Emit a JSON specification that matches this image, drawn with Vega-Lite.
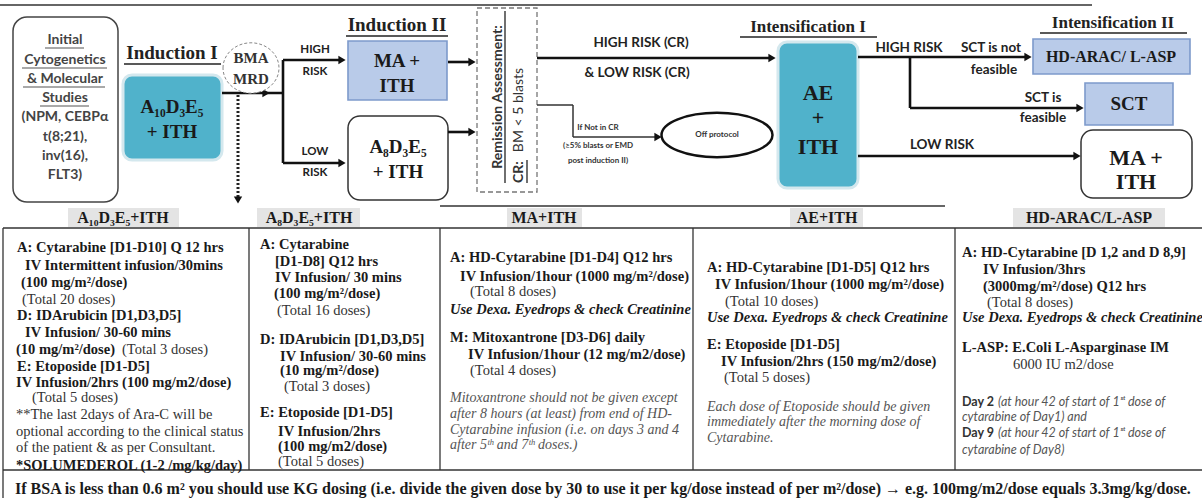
{
  "$schema": "https://vega.github.io/schema/vega-lite/v6.json",
  "width": 1202,
  "height": 498,
  "autosize": {"type": "none"},
  "padding": 0,
  "background": "white",
  "config": {"view": {"stroke": null}},
  "datasets": {
    "tableRules": [
      {"x": 3, "y": 228, "x2": 1202, "y2": 228},
      {"x": 3, "y": 470, "x2": 1202, "y2": 470},
      {"x": 3, "y": 228, "x2": 3, "y2": 498},
      {"x": 249, "y": 228, "x2": 249, "y2": 470},
      {"x": 440, "y": 228, "x2": 440, "y2": 470},
      {"x": 693, "y": 228, "x2": 693, "y2": 470},
      {"x": 955, "y": 228, "x2": 955, "y2": 470}
    ],
    "grayRules": [
      {"x": 0, "y": 5, "x2": 1092, "y2": 5},
      {"x": 440, "y": 206, "x2": 945, "y2": 206}
    ],
    "headerBg": [
      {"x": 68, "y": 208, "x2": 179, "y2": 227},
      {"x": 257, "y": 208, "x2": 360, "y2": 227},
      {"x": 507, "y": 208, "x2": 582, "y2": 227},
      {"x": 790, "y": 208, "x2": 863, "y2": 227},
      {"x": 1013, "y": 208, "x2": 1165, "y2": 227}
    ],
    "tealBoxes": [
      {"x": 123, "y": 75, "x2": 222, "y2": 160},
      {"x": 778, "y": 42, "x2": 858, "y2": 188}
    ],
    "blueBoxes": [
      {"x": 348, "y": 41, "x2": 447, "y2": 100},
      {"x": 1033, "y": 39, "x2": 1190, "y2": 74},
      {"x": 1085, "y": 83, "x2": 1173, "y2": 125}
    ],
    "whiteBoxes": [
      {"x": 348, "y": 116, "x2": 448, "y2": 200},
      {"x": 1081, "y": 130, "x2": 1192, "y2": 198}
    ],
    "initialBox": [{"x": 13, "y": 17, "x2": 118, "y2": 202}],
    "dashedBox": [{"x": 477, "y": 8, "x2": 537, "y2": 192}],
    "flowLines": [
      {"x": 222, "y": 93, "x2": 283, "y2": 93},
      {"x": 283, "y": 60, "x2": 283, "y2": 163},
      {"x": 283, "y": 60, "x2": 340, "y2": 60},
      {"x": 283, "y": 163, "x2": 340, "y2": 163},
      {"x": 448, "y": 62, "x2": 470, "y2": 62},
      {"x": 448, "y": 132, "x2": 470, "y2": 132},
      {"x": 537, "y": 58, "x2": 770, "y2": 58},
      {"x": 858, "y": 57, "x2": 1025, "y2": 57},
      {"x": 910, "y": 57, "x2": 910, "y2": 108},
      {"x": 910, "y": 108, "x2": 1077, "y2": 108},
      {"x": 858, "y": 156, "x2": 1074, "y2": 156}
    ],
    "thinLines": [
      {"x": 537, "y": 105, "x2": 573, "y2": 105},
      {"x": 573, "y": 105, "x2": 573, "y2": 137},
      {"x": 573, "y": 137, "x2": 656, "y2": 137}
    ],
    "dottedLines": [{"x": 238, "y": 95, "x2": 238, "y2": 198}],
    "arrowsRight": [
      {"x": 266, "y": 93},
      {"x": 342, "y": 60},
      {"x": 342, "y": 163},
      {"x": 472, "y": 62},
      {"x": 472, "y": 132},
      {"x": 772, "y": 58},
      {"x": 1028, "y": 57},
      {"x": 1080, "y": 108},
      {"x": 1077, "y": 156},
      {"x": 658, "y": 137}
    ],
    "arrowsDown": [{"x": 238, "y": 200}],
    "bmaCircle": [{"x": 251, "y": 68}],
    "offEllipse": [{"x": 717, "y": 135}],
    "underlines": [
      {"x": 124, "y": 64, "x2": 221, "y2": 64},
      {"x": 346, "y": 36, "x2": 448, "y2": 36},
      {"x": 740, "y": 37, "x2": 877, "y2": 37},
      {"x": 1040, "y": 33, "x2": 1187, "y2": 33},
      {"x": 505, "y": 11, "x2": 505, "y2": 183},
      {"x": 527, "y": 160, "x2": 527, "y2": 183}
    ],
    "grayUnderlines": [
      {"x": 45, "y": 48, "x2": 84, "y2": 48},
      {"x": 22, "y": 68, "x2": 107, "y2": 68},
      {"x": 23, "y": 87, "x2": 105, "y2": 87},
      {"x": 40, "y": 106, "x2": 89, "y2": 106}
    ],
    "head19": [
      {"x": 172, "y": 53, "t": "Induction I"},
      {"x": 397, "y": 25, "t": "Induction II"}
    ],
    "head17": [
      {"x": 808, "y": 27, "t": "Intensification I"},
      {"x": 1113, "y": 23, "t": "Intensification II"}
    ],
    "box18": [
      {"x": 172, "y": 107, "t": "A₁₀D₃E₅"},
      {"x": 172, "y": 132, "t": "+ ITH"},
      {"x": 398, "y": 147, "t": "A₈D₃E₅"},
      {"x": 398, "y": 172, "t": "+ ITH"},
      {"x": 397, "y": 61, "t": "MA +"},
      {"x": 397, "y": 86, "t": "ITH"},
      {"x": 1129, "y": 104, "t": "SCT"}
    ],
    "box22": [
      {"x": 818, "y": 93, "t": "AE"},
      {"x": 818, "y": 118, "t": "+"},
      {"x": 818, "y": 147, "t": "ITH"},
      {"x": 1136, "y": 158, "t": "MA +"},
      {"x": 1136, "y": 182, "t": "ITH"}
    ],
    "box16": [{"x": 1111, "y": 57, "t": "HD-ARAC/ L-ASP"}],
    "bma": [
      {"x": 251, "y": 58, "t": "BMA"},
      {"x": 251, "y": 79, "t": "MRD"}
    ],
    "flow12": [
      {"x": 641, "y": 43, "t": "HIGH RISK (CR)"},
      {"x": 637, "y": 73, "t": "& LOW RISK (CR)"},
      {"x": 909, "y": 48, "t": "HIGH RISK"},
      {"x": 991, "y": 48, "t": "SCT is not"},
      {"x": 994, "y": 70, "t": "feasible"},
      {"x": 1043, "y": 98, "t": "SCT is"},
      {"x": 1043, "y": 118, "t": "feasible"},
      {"x": 942, "y": 145, "t": "LOW RISK"}
    ],
    "flow11": [
      {"x": 315, "y": 50, "t": "HIGH"},
      {"x": 315, "y": 72, "t": "RISK"},
      {"x": 315, "y": 152, "t": "LOW"},
      {"x": 315, "y": 173, "t": "RISK"}
    ],
    "flow8": [
      {"x": 598, "y": 128, "t": "If Not in CR"},
      {"x": 598, "y": 146, "t": "(≥5% blasts or EMD"},
      {"x": 598, "y": 161, "t": "post induction II)"},
      {"x": 717, "y": 135, "t": "Off protocol"}
    ],
    "initialText": [
      {"x": 65, "y": 40, "t": "Initial"},
      {"x": 65, "y": 60, "t": "Cytogenetics"},
      {"x": 65, "y": 79, "t": "& Molecular"},
      {"x": 65, "y": 98, "t": "Studies"},
      {"x": 65, "y": 117, "t": "(NPM, CEBPα"},
      {"x": 65, "y": 137, "t": "t(8;21),"},
      {"x": 65, "y": 156, "t": "inv(16),"},
      {"x": 65, "y": 175, "t": "FLT3)"}
    ],
    "rotBold": [
      {"x": 498, "y": 97, "t": "Remission Assessment:"},
      {"x": 519, "y": 172, "t": "CR:"}
    ],
    "rotNormal": [{"x": 519, "y": 110, "t": "BM < 5 blasts"}],
    "tableHeads": [
      {"x": 123, "y": 218, "t": "A₁₀D₃E₅+ITH"},
      {"x": 309, "y": 218, "t": "A₈D₃E₅+ITH"},
      {"x": 544, "y": 218, "t": "MA+ITH"},
      {"x": 827, "y": 218, "t": "AE+ITH"},
      {"x": 1089, "y": 218, "t": "HD-ARAC/L-ASP"}
    ],
    "cellBold": [
      {"x": 17, "y": 248, "t": "A: Cytarabine  [D1-D10] Q 12 hrs"},
      {"x": 25, "y": 266, "t": "IV Intermittent infusion/30mins"},
      {"x": 21, "y": 283, "t": "(100 mg/m²/dose)"},
      {"x": 17, "y": 316, "t": "D:  IDArubicin  [D1,D3,D5]"},
      {"x": 25, "y": 333, "t": "IV Infusion/ 30-60 mins"},
      {"x": 16, "y": 350, "t": "(10 mg/m²/dose)"},
      {"x": 17, "y": 367, "t": "E: Etoposide  [D1-D5]"},
      {"x": 16, "y": 383, "t": "IV Infusion/2hrs (100 mg/m2/dose)"},
      {"x": 16, "y": 466, "t": "*SOLUMEDEROL (1-2 /mg/kg/day)"},
      {"x": 260, "y": 245, "t": "A: Cytarabine"},
      {"x": 275, "y": 262, "t": "[D1-D8] Q12 hrs"},
      {"x": 275, "y": 278, "t": "IV Infusion/ 30 mins"},
      {"x": 274, "y": 294, "t": "(100 mg/m²/dose)"},
      {"x": 260, "y": 340, "t": "D:  IDArubicin  [D1,D3,D5]"},
      {"x": 280, "y": 357, "t": "IV Infusion/ 30-60 mins"},
      {"x": 280, "y": 371, "t": "(10 mg/m²/dose)"},
      {"x": 260, "y": 413, "t": "E: Etoposide  [D1-D5]"},
      {"x": 278, "y": 432, "t": "IV Infusion/2hrs"},
      {"x": 278, "y": 447, "t": "(100 mg/m2/dose)"},
      {"x": 450, "y": 258, "t": "A: HD-Cytarabine  [D1-D4] Q12 hrs"},
      {"x": 460, "y": 277, "t": "IV Infusion/1hour (1000 mg/m²/dose)"},
      {"x": 450, "y": 338, "t": "M: Mitoxantrone  [D3-D6] daily"},
      {"x": 468, "y": 355, "t": "IV Infusion/1hour (12 mg/m2/dose)"},
      {"x": 707, "y": 268, "t": "A: HD-Cytarabine  [D1-D5] Q12 hrs"},
      {"x": 715, "y": 285, "t": "IV Infusion/1hour (1000 mg/m²/dose)"},
      {"x": 707, "y": 345, "t": "E: Etoposide  [D1-D5]"},
      {"x": 721, "y": 362, "t": "IV Infusion/2hrs (150 mg/m2/dose)"},
      {"x": 962, "y": 253, "t": "A:  HD-Cytarabine  [D 1,2 and D 8,9]"},
      {"x": 983, "y": 270, "t": "IV Infusion/3hrs"},
      {"x": 983, "y": 287, "t": "(3000mg/m²/dose)  Q12 hrs"},
      {"x": 962, "y": 348, "t": "L-ASP: E.Coli L-Asparginase IM"}
    ],
    "cellNormal": [
      {"x": 22, "y": 300, "t": "(Total 20 doses)"},
      {"x": 122, "y": 350, "t": "(Total 3 doses)"},
      {"x": 32, "y": 398, "t": "(Total 5 doses)"},
      {"x": 16, "y": 415, "t": "**The last 2days of Ara-C will be"},
      {"x": 16, "y": 432, "t": "optional according to the clinical status"},
      {"x": 16, "y": 448, "t": "of the patient & as per Consultant."},
      {"x": 277, "y": 311, "t": "(Total 16 doses)"},
      {"x": 284, "y": 387, "t": "(Total 3 doses)"},
      {"x": 278, "y": 462, "t": "(Total 5 doses)"},
      {"x": 470, "y": 292, "t": "(Total 8 doses)"},
      {"x": 470, "y": 371, "t": "(Total 4 doses)"},
      {"x": 725, "y": 302, "t": "(Total 10 doses)"},
      {"x": 724, "y": 378, "t": "(Total 5 doses)"},
      {"x": 987, "y": 303, "t": "(Total 8 doses)"},
      {"x": 1013, "y": 365, "t": "6000 IU m2/dose"}
    ],
    "cellBoldItalic": [
      {"x": 450, "y": 310, "t": "Use Dexa. Eyedrops & check Creatinine"},
      {"x": 707, "y": 318, "t": "Use Dexa. Eyedrops & check Creatinine"},
      {"x": 962, "y": 318, "t": "Use Dexa. Eyedrops & check Creatinine"}
    ],
    "cellItalic": [
      {"x": 450, "y": 398, "t": "Mitoxantrone should not be given except"},
      {"x": 450, "y": 414, "t": "after 8 hours (at least) from end of HD-"},
      {"x": 450, "y": 430, "t": "Cytarabine infusion  (i.e. on days 3 and 4"},
      {"x": 450, "y": 445, "t": "after 5ᵗʰ and 7ᵗʰ doses.)"},
      {"x": 707, "y": 407, "t": "Each dose of Etoposide should be given"},
      {"x": 707, "y": 422, "t": "immediately after the morning dose of"},
      {"x": 707, "y": 438, "t": "Cytarabine."}
    ],
    "sansBold": [
      {"x": 962, "y": 402, "t": "Day 2"},
      {"x": 962, "y": 433, "t": "Day 9"}
    ],
    "sansItalic": [
      {"x": 998, "y": 402, "t": "(at hour 42 of start of 1ˢᵗ dose of"},
      {"x": 962, "y": 417, "t": "cytarabine of Day1) and"},
      {"x": 998, "y": 433, "t": "(at hour 42 of start of 1ˢᵗ dose of"},
      {"x": 962, "y": 450, "t": "cytarabine of Day8)"}
    ],
    "footnote": [
      {"x": 15, "y": 489, "t": "If BSA is less than 0.6 m² you should use KG dosing (i.e. divide the given dose by 30 to use it per kg/dose instead of per m²/dose) → e.g. 100mg/m2/dose equals 3.3mg/kg/dose."}
    ]
  },
  "encoding": {
    "x": {"field": "x", "type": "quantitative", "scale": {"domain": [0, 1202], "nice": false, "zero": false}, "axis": null},
    "y": {"field": "y", "type": "quantitative", "scale": {"domain": [0, 498], "reverse": true, "nice": false, "zero": false}, "axis": null}
  },
  "layer": [
    {"data": {"name": "headerBg"}, "mark": {"type": "rect", "fill": "#e4e4e4"},
     "encoding": {"x2": {"field": "x2"}, "y2": {"field": "y2"}}},
    {"data": {"name": "tableRules"}, "mark": {"type": "rule", "color": "#333", "strokeWidth": 1.3},
     "encoding": {"x2": {"field": "x2"}, "y2": {"field": "y2"}}},
    {"data": {"name": "grayRules"}, "mark": {"type": "rule", "color": "#666", "strokeWidth": 2},
     "encoding": {"x2": {"field": "x2"}, "y2": {"field": "y2"}}},
    {"data": {"name": "initialBox"}, "mark": {"type": "rect", "fill": "white", "stroke": "#444", "strokeWidth": 1.5, "cornerRadius": 14},
     "encoding": {"x2": {"field": "x2"}, "y2": {"field": "y2"}}},
    {"data": {"name": "tealBoxes"}, "mark": {"type": "rect", "fill": "#50b2cb", "stroke": "#d4e8ee", "strokeWidth": 3, "cornerRadius": 9},
     "encoding": {"x2": {"field": "x2"}, "y2": {"field": "y2"}}},
    {"data": {"name": "blueBoxes"}, "mark": {"type": "rect", "fill": "#b9cbe9", "stroke": "#7d9acb", "strokeWidth": 1.6},
     "encoding": {"x2": {"field": "x2"}, "y2": {"field": "y2"}}},
    {"data": {"name": "whiteBoxes"}, "mark": {"type": "rect", "fill": "white", "stroke": "#333", "strokeWidth": 1.5, "cornerRadius": 12},
     "encoding": {"x2": {"field": "x2"}, "y2": {"field": "y2"}}},
    {"data": {"name": "dashedBox"}, "mark": {"type": "rect", "fill": "white", "stroke": "#777", "strokeWidth": 1.3, "strokeDash": [5, 3]},
     "encoding": {"x2": {"field": "x2"}, "y2": {"field": "y2"}}},
    {"data": {"name": "flowLines"}, "mark": {"type": "rule", "color": "#111", "strokeWidth": 2.6},
     "encoding": {"x2": {"field": "x2"}, "y2": {"field": "y2"}}},
    {"data": {"name": "thinLines"}, "mark": {"type": "rule", "color": "#333", "strokeWidth": 1.5},
     "encoding": {"x2": {"field": "x2"}, "y2": {"field": "y2"}}},
    {"data": {"name": "dottedLines"}, "mark": {"type": "rule", "color": "#222", "strokeWidth": 3, "strokeDash": [2, 2]},
     "encoding": {"x2": {"field": "x2"}, "y2": {"field": "y2"}}},
    {"data": {"name": "arrowsRight"}, "mark": {"type": "point", "shape": "triangle-right", "filled": true, "size": 70, "color": "#111", "opacity": 1}},
    {"data": {"name": "arrowsDown"}, "mark": {"type": "point", "shape": "triangle-down", "filled": true, "size": 70, "color": "#111", "opacity": 1}},
    {"data": {"name": "bmaCircle"}, "mark": {"type": "point", "shape": "M-1,0A1,0.9,0,1,1,1,0A1,0.9,0,1,1,-1,0Z", "size": 3136, "filled": false, "fill": "white", "fillOpacity": 1, "stroke": "#888", "strokeWidth": 1, "strokeDash": [3, 2], "opacity": 1}},
    {"data": {"name": "offEllipse"}, "mark": {"type": "point", "shape": "M-1,0A1,0.4,0,1,1,1,0A1,0.4,0,1,1,-1,0Z", "size": 12321, "filled": false, "fill": "white", "fillOpacity": 1, "stroke": "#111", "strokeWidth": 2.5, "opacity": 1}},
    {"data": {"name": "underlines"}, "mark": {"type": "rule", "color": "#222", "strokeWidth": 1.3},
     "encoding": {"x2": {"field": "x2"}, "y2": {"field": "y2"}}},
    {"data": {"name": "grayUnderlines"}, "mark": {"type": "rule", "color": "#555", "strokeWidth": 1.2},
     "encoding": {"x2": {"field": "x2"}, "y2": {"field": "y2"}}},
    {"data": {"name": "head19"}, "mark": {"type": "text", "font": "Liberation Serif", "fontWeight": "bold", "fontSize": 19, "align": "center", "baseline": "middle", "color": "#222"},
     "encoding": {"text": {"field": "t"}}},
    {"data": {"name": "head17"}, "mark": {"type": "text", "font": "Liberation Serif", "fontWeight": "bold", "fontSize": 17, "align": "center", "baseline": "middle", "color": "#222"},
     "encoding": {"text": {"field": "t"}}},
    {"data": {"name": "box18"}, "mark": {"type": "text", "font": "Liberation Serif", "fontWeight": "bold", "fontSize": 19, "align": "center", "baseline": "middle", "color": "#1a1a1a"},
     "encoding": {"text": {"field": "t"}}},
    {"data": {"name": "box22"}, "mark": {"type": "text", "font": "Liberation Serif", "fontWeight": "bold", "fontSize": 22, "align": "center", "baseline": "middle", "color": "#1a1a1a"},
     "encoding": {"text": {"field": "t"}}},
    {"data": {"name": "box16"}, "mark": {"type": "text", "font": "Liberation Serif", "fontWeight": "bold", "fontSize": 16, "align": "center", "baseline": "middle", "color": "#1a1a1a"},
     "encoding": {"text": {"field": "t"}}},
    {"data": {"name": "bma"}, "mark": {"type": "text", "font": "Liberation Serif", "fontWeight": "bold", "fontSize": 15, "align": "center", "baseline": "middle", "color": "#333"},
     "encoding": {"text": {"field": "t"}}},
    {"data": {"name": "flow12"}, "mark": {"type": "text", "font": "Lato", "fontWeight": "bold", "fontSize": 13.5, "align": "center", "baseline": "middle", "color": "#222"},
     "encoding": {"text": {"field": "t"}}},
    {"data": {"name": "flow11"}, "mark": {"type": "text", "font": "Lato", "fontWeight": "bold", "fontSize": 11.5, "align": "center", "baseline": "middle", "color": "#222"},
     "encoding": {"text": {"field": "t"}}},
    {"data": {"name": "flow8"}, "mark": {"type": "text", "font": "Lato", "fontWeight": "bold", "fontSize": 8, "align": "center", "baseline": "middle", "color": "#333"},
     "encoding": {"text": {"field": "t"}}},
    {"data": {"name": "initialText"}, "mark": {"type": "text", "font": "Lato", "fontWeight": "bold", "fontSize": 14, "align": "center", "baseline": "middle", "color": "#444"},
     "encoding": {"text": {"field": "t"}}},
    {"data": {"name": "rotBold"}, "mark": {"type": "text", "font": "Lato", "fontWeight": "bold", "fontSize": 14, "align": "center", "baseline": "middle", "angle": 270, "color": "#333"},
     "encoding": {"text": {"field": "t"}}},
    {"data": {"name": "rotNormal"}, "mark": {"type": "text", "font": "Lato", "fontWeight": "normal", "fontSize": 14, "align": "center", "baseline": "middle", "angle": 270, "color": "#333"},
     "encoding": {"text": {"field": "t"}}},
    {"data": {"name": "tableHeads"}, "mark": {"type": "text", "font": "Liberation Serif", "fontWeight": "bold", "fontSize": 16, "align": "center", "baseline": "middle", "color": "#1a1a1a"},
     "encoding": {"text": {"field": "t"}}},
    {"data": {"name": "cellBold"}, "mark": {"type": "text", "font": "Liberation Serif", "fontWeight": "bold", "fontSize": 14.5, "align": "left", "baseline": "middle", "color": "#1a1a1a"},
     "encoding": {"text": {"field": "t"}}},
    {"data": {"name": "cellNormal"}, "mark": {"type": "text", "font": "Liberation Serif", "fontWeight": "normal", "fontSize": 14.5, "align": "left", "baseline": "middle", "color": "#333"},
     "encoding": {"text": {"field": "t"}}},
    {"data": {"name": "cellBoldItalic"}, "mark": {"type": "text", "font": "Liberation Serif", "fontWeight": "bold", "fontStyle": "italic", "fontSize": 14.5, "align": "left", "baseline": "middle", "color": "#1a1a1a"},
     "encoding": {"text": {"field": "t"}}},
    {"data": {"name": "cellItalic"}, "mark": {"type": "text", "font": "Liberation Serif", "fontStyle": "italic", "fontSize": 14, "align": "left", "baseline": "middle", "color": "#555"},
     "encoding": {"text": {"field": "t"}}},
    {"data": {"name": "sansBold"}, "mark": {"type": "text", "font": "Lato", "fontWeight": "bold", "fontSize": 12.5, "align": "left", "baseline": "middle", "color": "#333"},
     "encoding": {"text": {"field": "t"}}},
    {"data": {"name": "sansItalic"}, "mark": {"type": "text", "font": "Lato", "fontStyle": "italic", "fontSize": 12.5, "align": "left", "baseline": "middle", "color": "#555"},
     "encoding": {"text": {"field": "t"}}},
    {"data": {"name": "footnote"}, "mark": {"type": "text", "font": "Liberation Serif", "fontWeight": "bold", "fontSize": 16, "align": "left", "baseline": "middle", "color": "#1a1a1a"},
     "encoding": {"text": {"field": "t"}}}
  ]
}
